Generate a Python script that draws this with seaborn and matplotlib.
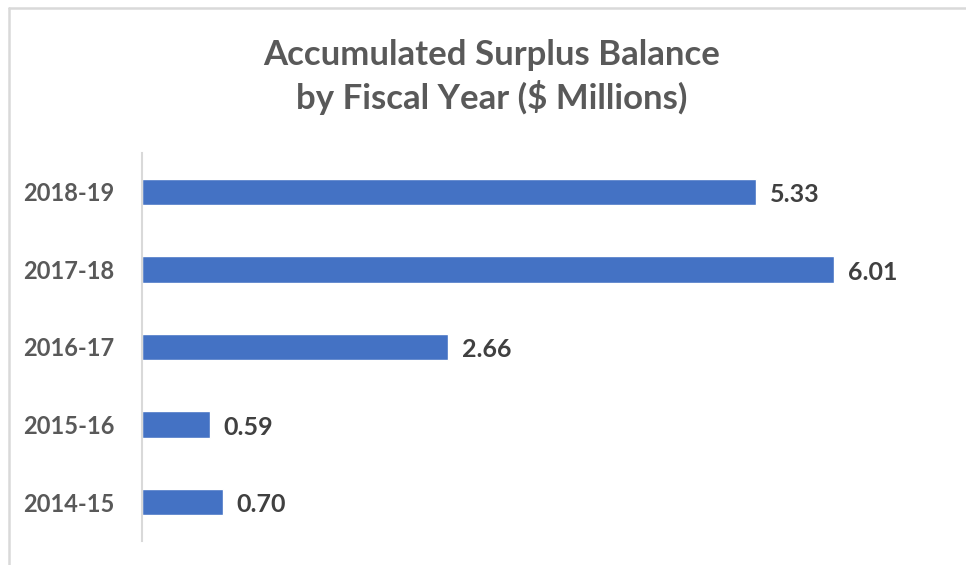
import matplotlib
matplotlib.use("Agg")
import matplotlib.pyplot as plt
import seaborn as sns
import pandas as pd
from matplotlib.lines import Line2D

categories = ["2018-19", "2017-18", "2016-17", "2015-16", "2014-15"]
values = [5.33, 6.01, 2.66, 0.59, 0.70]
value_labels = ["5.33", "6.01", "2.66", "0.59", "0.70"]
title = "Accumulated Surplus Balance\nby Fiscal Year ($ Millions)"

sns.set_theme(style="white")
plt.rcParams["font.family"] = ["Lato", "DejaVu Sans"]

df = pd.DataFrame({"year": categories, "value": values})

W, H, DPI = 966, 565, 100
fig = plt.figure(figsize=(W / DPI, H / DPI), dpi=DPI)
ax = fig.add_axes([142 / W, 1 - 541 / H, (948 - 142) / W, (541 - 153) / H])

sns.barplot(data=df, x="value", y="year", order=categories, color="#4472C4",
            saturation=1, width=0.34, ax=ax)

ax.set_xlim(0, 7.0)
ax.set_ylim(4.5, -0.5)
ax.set_xlabel("")
ax.set_ylabel("")
ax.set_xticks([])
for s in ["top", "right", "bottom"]:
    ax.spines[s].set_visible(False)
ax.spines["left"].set_color("#d9d9d9")
ax.spines["left"].set_linewidth(1.5)
ax.tick_params(axis="y", length=0, pad=20)
for lab in ax.get_yticklabels():
    lab.set_fontsize(17)
    lab.set_fontweight("bold")
    lab.set_color("#595959")

for i, (v, t) in enumerate(zip(values, value_labels)):
    ax.annotate(t, (v, i), xytext=(10, -2), textcoords="offset points",
                ha="left", va="center", fontsize=18, fontweight="bold",
                color="#404040")

fig.text(492 / W, 1 - 77 / H, title, ha="center", va="center",
         fontsize=25, fontweight="bold", color="#595959", linespacing=1.32)

# chart frame (top and left edges)
fig.add_artist(Line2D([9 / W, 9 / W], [0, 1 - 8 / H], transform=fig.transFigure,
                      color="#d9d9d9", linewidth=1.8))
fig.add_artist(Line2D([9 / W, 1], [1 - 8 / H, 1 - 8 / H], transform=fig.transFigure,
                      color="#d9d9d9", linewidth=1.8))

fig.savefig("out.png", dpi=DPI, facecolor="white")
